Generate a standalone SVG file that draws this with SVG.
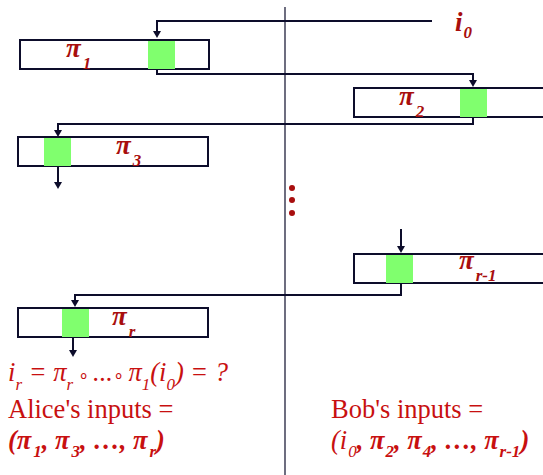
<svg xmlns="http://www.w3.org/2000/svg" width="543" height="475" viewBox="0 0 543 475">
<defs>
<style>
.box{fill:#fff;stroke:#0d0d2b;stroke-width:2}
.g{fill:#80ff6e}
.ln{fill:none;stroke:#0d0d2b;stroke-width:2}
.ah{fill:#0d0d2b}
.pi{font-family:"Liberation Serif",serif;font-weight:bold;font-style:italic;fill:#a80e0e;font-size:27px}
.sub{font-size:17px}
.t{font-family:"Liberation Serif",serif;fill:#c81010;font-size:26.5px}
.it{font-style:italic}
.bi{font-style:italic;font-weight:bold}
</style>
</defs>
<rect width="543" height="475" fill="#fff"/>
<line x1="285" y1="7" x2="285" y2="475" stroke="#0d0d2b" stroke-width="1.2"/>
<g id="connectors">
<path class="ln" d="M432,21 H157 V31"/>
<path class="ah" d="M153,31 L157,38 L161,31 Z"/>
<path class="ln" d="M157,69 V74 H473 V80"/>
<path class="ah" d="M469,80 L473,87 L477,80 Z"/>
<path class="ln" d="M473,117 V124 H58 V130"/>
<path class="ah" d="M54,130 L58,137 L62,130 Z"/>
<path class="ln" d="M58,166 V182"/>
<path class="ah" d="M54,182 L58,189 L62,182 Z"/>
<path class="ln" d="M401,229 V246"/>
<path class="ah" d="M397,246 L401,253 L405,246 Z"/>
<path class="ln" d="M401,283 V295 H75 V300"/>
<path class="ah" d="M71,300 L75,307 L79,300 Z"/>
<path class="ln" d="M73,337 V350"/>
<path class="ah" d="M69,350 L73,357 L77,350 Z"/>
</g>
<g id="i0"><text class="pi" x="455" y="31" font-size="28">i<tspan class="sub" dx="1" dy="7">0</tspan></text></g>
<g id="p1">
<rect class="box" x="20" y="40" width="189" height="29"/>
<rect class="g" x="148" y="41" width="27" height="28"/>
<text class="pi" x="66" y="57">π<tspan class="sub" dx="2" dy="12">1</tspan></text>
</g>
<g id="p2">
<rect class="box" x="354" y="88" width="200" height="29"/>
<rect class="g" x="460" y="89" width="27" height="28"/>
<text class="pi" x="399" y="105">π<tspan class="sub" dx="2" dy="12">2</tspan></text>
</g>
<g id="p3">
<rect class="box" x="18" y="137" width="190" height="29"/>
<rect class="g" x="44" y="138" width="27" height="28"/>
<text class="pi" x="116" y="154">π<tspan class="sub" dx="2" dy="12">3</tspan></text>
</g>
<g id="dots" fill="#a80e0e">
<circle cx="292" cy="188" r="3"/>
<circle cx="292" cy="200" r="3"/>
<circle cx="292" cy="213" r="3"/>
</g>
<g id="prm1">
<rect class="box" x="354" y="254" width="200" height="29"/>
<rect class="g" x="386" y="255" width="27" height="28"/>
<text class="pi" x="459" y="269">π<tspan class="sub" dx="2" dy="12">r-1</tspan></text>
</g>
<g id="pr">
<rect class="box" x="18" y="308" width="190" height="29"/>
<rect class="g" x="62" y="309" width="27" height="28"/>
<text class="pi" x="112" y="325">π<tspan class="sub" dx="2" dy="12">r</tspan></text>
</g>
<g id="texts">
<text class="t it" x="8" y="381" font-size="25">i<tspan class="sub" dy="9">r</tspan><tspan dy="-9"> = π</tspan><tspan class="sub" dy="9">r</tspan><tspan dy="-9" font-size="18" font-style="normal"> ∘ </tspan><tspan>...</tspan><tspan font-size="18" font-style="normal">∘ </tspan><tspan>π</tspan><tspan class="sub" dy="9">1</tspan><tspan dy="-9">(i</tspan><tspan class="sub" dy="9">0</tspan><tspan dy="-9">) =  ?</tspan></text>
<text class="t" x="8" y="418">Alice's inputs =</text>
<text class="t bi" x="8" y="449">(π<tspan class="sub" dx="2" dy="8">1</tspan><tspan dy="-8">, π</tspan><tspan class="sub" dx="2" dy="8">3</tspan><tspan dy="-8">, …, π</tspan><tspan class="sub" dx="2" dy="8">r</tspan><tspan dy="-8">)</tspan></text>
<text class="t" x="331" y="418">Bob's inputs =</text>
<text class="t bi" x="331" y="449"><tspan font-weight="normal">(i</tspan><tspan class="sub" dx="1" dy="8" font-weight="normal">0</tspan><tspan dy="-8">, π</tspan><tspan class="sub" dx="1" dy="8">2</tspan><tspan dy="-8">, π</tspan><tspan class="sub" dx="1" dy="8">4</tspan><tspan dy="-8">, …, π</tspan><tspan class="sub" dx="1" dy="8">r-1</tspan><tspan dy="-8">)</tspan></text>
</g>
</svg>
